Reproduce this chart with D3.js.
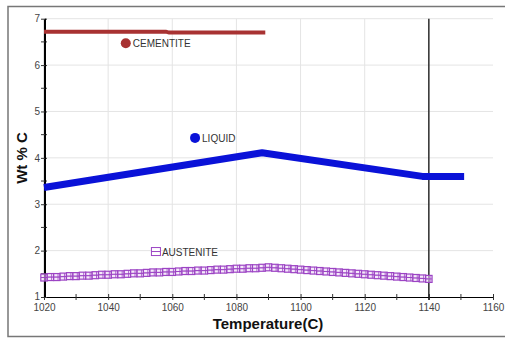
<!DOCTYPE html>
<html><head><meta charset="utf-8">
<script src="https://cdn.jsdelivr.net/npm/d3@7"></script>
<style>body{margin:0;background:#fff}svg{display:block}text{font-family:"Liberation Sans",Arial,sans-serif}</style>
</head><body><svg id="c" width="505" height="338"></svg>
<script>
const xTicks=[1020,1040,1060,1080,1100,1120,1140,1160];
const xMinor=[1030,1050,1070,1090,1110,1130,1150];
const yTicks=[1,2,3,4,5,6,7];
const yMinor=[1.5,2.5,3.5,4.5,5.5,6.5];
const cementiteT=[1020,1058,1059,1089];
const cementiteV=[6.72,6.72,6.70,6.70];
const liquidT=[1020,1088,1138,1151];
const liquidV=[3.36,4.11,3.60,3.60];
const austeniteT=[1020,1022,1024,1026,1028,1030,1032,1034,1036,1038,1040,1042,1044,1046,1048,1050,1052,1054,1056,1058,1060,1062,1064,1066,1068,1070,1072,1074,1076,1078,1080,1082,1084,1086,1088,1090,1092,1094,1096,1098,1100,1102,1104,1106,1108,1110,1112,1114,1116,1118,1120,1122,1124,1126,1128,1130,1132,1134,1136,1138,1140];
const austeniteV=[1.42,1.43,1.43,1.44,1.45,1.45,1.46,1.46,1.47,1.48,1.48,1.49,1.49,1.50,1.51,1.51,1.52,1.53,1.53,1.54,1.54,1.55,1.56,1.56,1.57,1.57,1.58,1.59,1.59,1.60,1.61,1.61,1.62,1.62,1.63,1.64,1.63,1.62,1.61,1.60,1.59,1.58,1.57,1.56,1.55,1.54,1.53,1.52,1.51,1.50,1.49,1.48,1.47,1.46,1.45,1.44,1.43,1.42,1.41,1.40,1.39];
const vLine=1140;
const labelNames=["CEMENTITE","LIQUID","AUSTENITE"];
const labelT=[1045.5,1067.1,1054.9];
const labelV=[6.47,4.43,1.98];

const svg=d3.select("#c");
const x=d3.scaleLinear().domain([1020,1160]).range([44,493]);
const y=d3.scaleLinear().domain([1,7]).range([297,18.7]);
const cRed="#a83232", cBlue="#0a12d8", cPurple="#9c44c4";

svg.append("rect").attr("x",8).attr("y",6.5).attr("width",520).attr("height",330).attr("fill","none").attr("stroke","#777").attr("stroke-width",1.5);

// grid
const g=svg.append("g");
g.selectAll(".gx").data(xTicks.slice(1,-1)).join("line").attr("x1",d=>x(d)).attr("x2",d=>x(d)).attr("y1",y(7)).attr("y2",y(1)).attr("stroke","#e4e4e4");
g.selectAll(".gy").data(yTicks.slice(1)).join("line").attr("x1",x(1020)).attr("x2",x(1160)).attr("y1",d=>y(d)).attr("y2",d=>y(d)).attr("stroke","#e4e4e4");

// axes
const xa=svg.append("g").attr("transform",`translate(0,${y(1)})`).call(d3.axisBottom(x).tickValues(xTicks).tickFormat(d3.format("d")).tickSize(3).tickSizeOuter(0));
const ya=svg.append("g").attr("transform",`translate(${x(1020)},0)`).call(d3.axisLeft(y).tickValues(yTicks).tickFormat(d3.format("d")).tickSize(3).tickSizeOuter(0));
[xa,ya].forEach(a=>{a.select(".domain").attr("stroke","#000").attr("stroke-width",1.2);a.selectAll(".tick line").attr("stroke","#333");a.selectAll("text").attr("font-size",10).attr("fill","#444");});
xa.selectAll(".tick line").attr("y1",-3).attr("y2",3);
ya.selectAll(".tick line").attr("x1",3).attr("x2",-3);
ya.selectAll("text").attr("x",-4);
ya.selectAll(".tick").filter(d=>d===1).select("text").attr("dy","0.2em");
xa.selectAll("text").attr("y",7);
svg.append("g").selectAll("line").data(xMinor).join("line").attr("x1",d=>x(d)).attr("x2",d=>x(d)).attr("y1",y(1)-3).attr("y2",y(1)+3).attr("stroke","#333");
svg.append("g").selectAll("line").data(yMinor).join("line").attr("x1",x(1020)-3).attr("x2",x(1020)+3).attr("y1",d=>y(d)).attr("y2",d=>y(d)).attr("stroke","#333");
svg.append("line").attr("x1",x(1020)+1.5).attr("x2",x(1020)+1.5).attr("y1",y(7)).attr("y2",y(1)).attr("stroke","#000").attr("stroke-width",1);

// vertical line
svg.append("line").attr("x1",x(vLine)).attr("x2",x(vLine)).attr("y1",y(7)).attr("y2",y(1)+3).attr("stroke","#111").attr("stroke-width",1.3);

const line=d3.line().x(d=>x(d[0])).y(d=>y(d[1]));
svg.append("path").attr("d",line(cementiteT.map((t,i)=>[t,cementiteV[i]]))).attr("fill","none").attr("stroke",cRed).attr("stroke-width",4);
svg.append("path").attr("d",line(liquidT.map((t,i)=>[t,liquidV[i]]))).attr("fill","none").attr("stroke",cBlue).attr("stroke-width",7).attr("stroke-linejoin","round");

const aus=austeniteT.map((t,i)=>[t,austeniteV[i]]);
svg.append("path").attr("d",line(aus)).attr("fill","none").attr("stroke",cPurple).attr("stroke-width",1.2);
const mk=svg.append("g").selectAll("g").data(aus).join("g").attr("transform",d=>`translate(${x(d[0])},${y(d[1])})`);
mk.append("rect").attr("x",-3.2).attr("y",-3.5).attr("width",6.4).attr("height",7).attr("fill","#eedcf6").attr("fill-opacity",0.6).attr("stroke",cPurple).attr("stroke-width",1.2);
mk.append("line").attr("x1",-3).attr("x2",3).attr("y1",0).attr("y2",0).attr("stroke",cPurple).attr("stroke-width",1);
mk.append("line").attr("x1",1.2).attr("x2",1.2).attr("y1",-3.5).attr("y2",3.5).attr("stroke",cPurple).attr("stroke-width",0.8);

// labels
labelNames.forEach((n,i)=>{
  const px=x(labelT[i]), py=y(labelV[i]);
  if(i==0) svg.append("circle").attr("cx",px).attr("cy",py).attr("r",5).attr("fill",cRed);
  if(i==1) svg.append("circle").attr("cx",px).attr("cy",py).attr("r",5).attr("fill",cBlue);
  if(i==2){svg.append("rect").attr("x",px-4.5).attr("y",py-4).attr("width",9).attr("height",8).attr("fill","#fff").attr("stroke",cPurple);
    svg.append("line").attr("x1",px-4.5).attr("x2",px+4.5).attr("y1",py).attr("y2",py).attr("stroke",cPurple);}
  svg.append("text").attr("x",px+(i==2?6:7)).attr("y",py+4).attr("font-size",10).attr("fill","#333").text(n);
});

svg.append("text").attr("x",268).attr("y",329).attr("text-anchor","middle").attr("font-size",15).attr("font-weight","bold").attr("fill","#111").text("Temperature(C)");
svg.append("text").attr("transform","translate(27,158) rotate(-90)").attr("text-anchor","middle").attr("font-size",15).attr("font-weight","bold").attr("fill","#111").text("Wt % C");
</script></body></html>
